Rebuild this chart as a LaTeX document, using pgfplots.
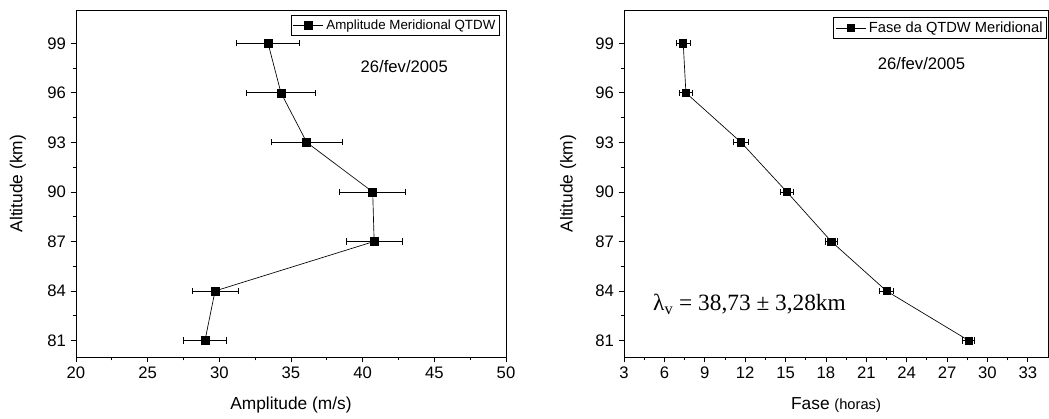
\documentclass[border=0pt]{standalone}
\usepackage{fontspec}
\setmainfont{Liberation Sans}
\newfontfamily\timesfont{Liberation Serif}
\usepackage{pgfplots}
\pgfplotsset{compat=1.18}

\pgfplotsset{
  qtdw/.style={
    scale only axis, height=260pt,
    ymin=80, ymax=101, ytick={81,84,...,99}, minor y tick num=1,
    minor x tick num=1,
    axis line style={line width=0.7pt},
    tick style={black, line width=0.6pt},
    major tick length=4pt, minor tick length=2.5pt,
    tick align=outside, xtick pos=left, ytick pos=left,
    /pgf/number format/assume math mode=true,
    tick label style={font=\fontsize{12.5}{14}\selectfont},
    every axis x label/.style={at={(axis description cs:0.5,-0.138)}, anchor=center,
      font=\fontsize{13}{15}\selectfont},
    legend cell align=left,
    legend style={draw=black, line width=0.5pt, inner sep=1.2pt, anchor=north east},
    legend image code/.code={
      \draw[mark repeat=2, mark phase=2] plot coordinates {(0cm,0cm) (0.4cm,0cm) (0.8cm,0cm)};},
  },
  ylab/.style={every axis y label/.style={at={(axis description cs:#1,0.5)}, rotate=90,
      anchor=center, font=\fontsize{13}{15}\selectfont}},
  serie/.style={black, line width=0.5pt, mark=square*, mark size=#1,
    mark options={solid},
    error bars/.cd, x dir=both, x explicit,
    error bar style={line width=0.6pt},
    error mark=|,
    error mark options={mark size=2.3pt, line width=0.6pt, black},
    /pgfplots/.cd},
  serie/.default=3pt,
}

\begin{document}
\begin{tikzpicture}
\begin{axis}[qtdw, ylab=-0.135, at={(0,0)}, width=322.5pt,
  xmin=20, xmax=50, xtick={20,25,...,50},
  xlabel={Amplitude (m/s)}, ylabel={Altitude (km)},
  legend style={at={(0.986,0.986)}, font=\fontsize{10}{12}\selectfont}]
\addplot[serie] table[x=x, y=y, x error=e] {
x    y   e
33.4 99  2.2
34.3 96  2.4
36.1 93  2.5
40.7 90  2.3
40.8 87  1.95
29.7 84  1.6
29.0 81  1.5
};
\addlegendentry{Amplitude Meridional QTDW}
\node[font=\fontsize{12.5}{14}\selectfont] at (axis cs:42.9,97.6) {26/fev/2005};
\end{axis}

\begin{axis}[qtdw, ylab=-0.132, at={(411pt,0)}, width=318pt,
  xmin=3, xmax=34.5, xtick={3,6,...,33},
  xlabel={Fase {\fontsize{11}{12}\selectfont(horas)}}, ylabel={Altitude (km)},
  legend style={at={(0.998,0.98)}, font=\fontsize{11}{13}\selectfont}]
\addplot[serie=2.7pt] table[x=x, y=y, x error=e] {
x    y   e
7.4  99  0.5
7.6  96  0.5
11.7 93  0.55
15.1 90  0.5
18.4 87  0.45
22.5 84  0.5
28.6 81  0.45
};
\addlegendentry{Fase da QTDW Meridional}
\node[font=\fontsize{12.5}{14}\selectfont] at (axis cs:25.1,97.8) {26/fev/2005};
\node[anchor=west, inner sep=0pt, font=\timesfont\fontsize{17.5}{19}\selectfont]
  at (axis cs:5.15,83.2) {λ\textsubscript{v} = 38,73 ± 3,28km};
\end{axis}
\path[use as bounding box] (-57pt,-45.75pt) rectangle (729.75pt,267.75pt);
\end{tikzpicture}
\end{document}
